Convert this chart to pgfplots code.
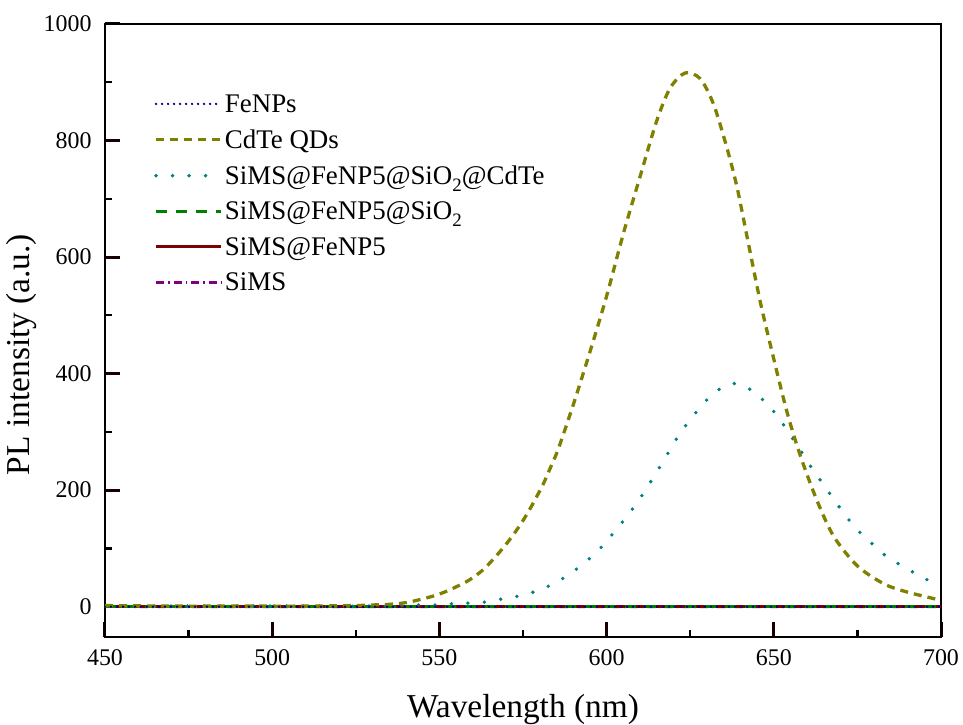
\documentclass[border=0pt]{standalone}
\usepackage{fontspec}
\setmainfont{Liberation Serif}
\usepackage{pgfplots}
\pgfplotsset{compat=1.18}

\definecolor{cNavy}{RGB}{0,0,128}
\definecolor{cOlive}{RGB}{128,128,0}
\definecolor{cTeal}{RGB}{0,128,128}
\definecolor{cGreen}{RGB}{0,128,0}
\definecolor{cRed}{RGB}{128,0,0}
\definecolor{cPurple}{RGB}{128,0,128}

% lowered subscript in the text font
\newcommand{\sub}[1]{\raisebox{-7bp}{\fontsize{19}{19}\selectfont #1}}

\begin{document}
\begin{tikzpicture}
\begin{axis}[
  scale only axis,
  width=836bp, height=613bp,
  xmin=450, xmax=700, ymin=-52, ymax=1000,
  xtick={450,500,...,700}, ytick={0,200,...,1000},
  minor x tick num=1, minor y tick num=1,
  tick align=inside, tick pos=left,
  major tick length=15bp, minor tick length=7bp,
  every major tick/.append style={black!90!red, line width=3bp},
  every minor tick/.append style={black, line width=2.2bp},
  axis line style={line width=2.5bp},
  /pgf/number format/assume math mode=true,
  /pgf/number format/set thousands separator={},
  tick label style={font=\fontsize{24}{28}\selectfont},
  xticklabel style={yshift=-9bp},
  yticklabel style={xshift=-10bp},
  label style={font=\fontsize{33.5}{38}\selectfont},
  xlabel={Wavelength (nm)},
  ylabel={PL intensity (a.u.)},
  xlabel style={yshift=-22bp},
  ylabel style={xshift=-24bp},
  legend style={draw=none, fill=none, at={(0.055,0.892)}, anchor=north west,
    font=\fontsize{27}{32}\selectfont, row sep=12bp},
  legend cell align=left,
  legend image code/.code={\draw[#1] (0bp,0bp) -- (65bp,0bp);},
  reverse legend,
]
% baseline samples
\addplot[cPurple, line width=2.8bp, dash pattern=on 8bp off 4bp on 1.5bp off 4bp]
  coordinates {(450,1)(460,0)(500,0)(550,0)(600,0)(650,0)(700,0)};
\addlegendentry{SiMS}
\addplot[cRed, line width=3bp]
  coordinates {(450,0)(500,0)(550,0)(600,0)(650,0)(700,0)};
\addlegendentry{SiMS@FeNP5}
\addplot[cGreen, line width=3bp, dash pattern=on 11bp off 9bp]
  coordinates {(450,1)(500,1)(550,1)(600,1)(650,1)(700,1)};
\addlegendentry{SiMS@FeNP5@SiO\sub{2}}
% core-shell composite
\addplot[cTeal, line width=3.8bp, line cap=round, dash pattern=on 0bp off 16.5bp, smooth]
  coordinates {
  (450,1)(470,1)(490,1)(510,1)(530,1)(543.5,3)(548.5,3)(553.5,5)(558,6)
  (563.5,8)(568.5,13)(573.5,18)(578.6,26)(583.6,38)(588.2,53)(593.1,74)
  (598.1,100)(602.1,127)(606.2,156)(610,186)(614,222)(618,260)(622,298)
  (626,328)(629.5,352)(633.4,372)(638.2,383)(643.2,372)(647.4,351)
  (651.4,325)(654.6,297)(657.9,269)(661,241)(664.4,213)(668,184)(671.5,156)
  (675.5,129)(680,105)(684,85)(689,68)(693.6,53)(698.6,38)(700,34)};
\addlegendentry{SiMS@FeNP5@SiO\sub{2}@CdTe}
% quantum dots
\addplot[cOlive, line width=3.3bp, dash pattern=on 8bp off 6bp, smooth]
  coordinates {
  (450,2)(470,1)(490,1)(510,1)(525,2)(530,3)(535,4)(540,7)(544,12)(548,18)
  (551.5,25)(555,34)(559,46)(563,63)(566.5,84)(569.5,104)(572.3,125)
  (574.8,146)(577.1,168)(579.1,189)(581.1,211)(583,236)(585.5,270)
  (590,346)(595,437)(600,533)(605,640)(610,738)(615,834)(619,890)
  (623.5,916)(628,906)(632,862)(636,787)(639,720)(642,635)(646,522)
  (650,425)(654,333)(658,258)(663,181)(668,120)(675,70)(683,39)(690,25)(700,11)};
\addlegendentry{CdTe QDs}
\addplot[cNavy, line width=2.6bp, line cap=round, dash pattern=on 0bp off 6bp]
  coordinates {(450,0)(500,0)(550,0)(600,0)(650,0)(700,0)};
\addlegendentry{FeNPs}
\end{axis}
\pgfresetboundingbox
\path (current axis.south west) ++(-105bp,-88bp) rectangle
      ([shift={(22bp,24bp)}]current axis.north east);
\end{tikzpicture}
\end{document}
